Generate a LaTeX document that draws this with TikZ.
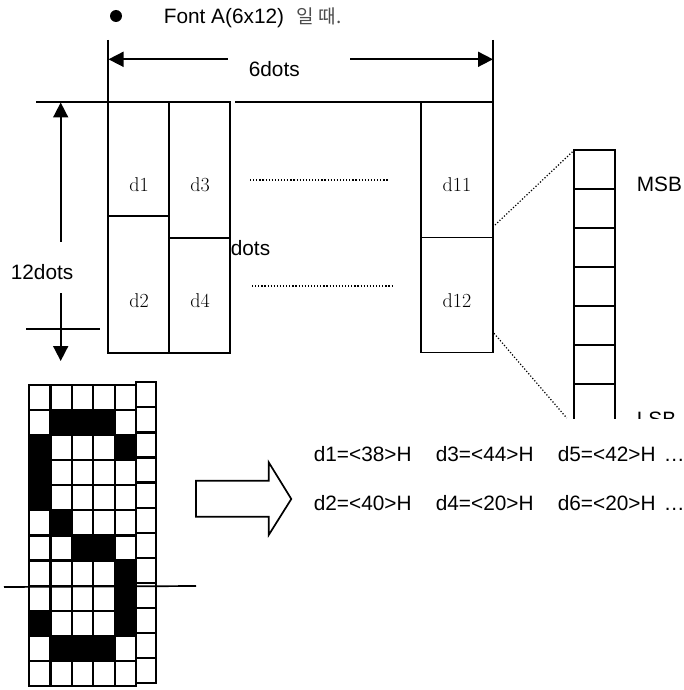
\documentclass[tikz,border=0pt]{standalone}
\usepackage{fontspec}
\setsansfont{Liberation Sans}
\newfontfamily\krfont{Noto Sans CJK KR}
\usetikzlibrary{arrows.meta,positioning}

\begin{document}
\begin{tikzpicture}[x=1pt, y=-1pt, font=\sffamily\fontsize{20.8}{24}\selectfont, line width=1.7pt,
  box/.style={draw=black, line width=1.7pt, minimum width=#1, inner sep=0pt, outer sep=0pt, anchor=north west},
  lbl/.style={font=\rmfamily\fontsize{20}{22}\selectfont, text=black, inner sep=0pt},
  txt/.style={anchor=base west, inner sep=0pt},
  ar/.style={{Triangle[length=15pt,width=15pt]}-, line width=1.7pt},
  dts/.style={line width=1.2pt, dash pattern=on 1.2pt off 1.9pt},
  cell/.style={draw=black, line width=2.2pt, minimum width=21.4pt, minimum height=25.08pt, inner sep=0pt, outer sep=0pt},
  blk/.style={cell, fill=black},
  cellb/.style={cell, minimum width=20pt},
  bit/.style={box=40.7pt, minimum height=39pt}]
\useasboundingbox (0,0) rectangle (684,690);
\fill (116,16) circle (6);
\node[txt] (title) at (163,24) {Font A(6x12)};
\node[txt, text=black!70] (titlekr) at (296,24) {\krfont\fontsize{19}{20}\selectfont 일 때.};
% column boxes
\node[box=61pt, minimum height=114pt] (b1) at (108,102) {};
\node[box=61pt, minimum height=137pt, below=0pt of b1.south west, anchor=north west] (b2) {};
\node[box=61pt, minimum height=136pt] (b3) at (169,102) {};
\node[box=61pt, minimum height=115pt, below=0pt of b3.south west, anchor=north west] (b4) {};
\node[box=72.6pt, minimum height=135.5pt] (b11) at (420.7,102) {};
\node[box=72.6pt, minimum height=115pt, below=0pt of b11.south west, anchor=north west] (b12) {};
\node[lbl] (d1) at (139,185) {d1};
\node[lbl] (d3) at (200,185) {d3};
\node[lbl] (d2) at (139,301) {d2};
\node[lbl] (d4) at (200,301) {d4};
\node[lbl] (d11) at (457,185) {d11};
\node[lbl] (d12) at (457,301) {d12};
\node[txt] (dots) at (230,255) {dots};
% dimension lines
\coordinate (w1) at (108,40);
\coordinate (w2) at (493.3,40);
\coordinate (w1a) at (108.5,59.3);
\coordinate (w1b) at (228,59.3);
\coordinate (w2a) at (493,59.3);
\coordinate (w2b) at (350,59.3);
\coordinate (t0) at (36,102);
\coordinate (t1) at (235,102);
\coordinate (h1a) at (60.7,102.5);
\coordinate (h1b) at (60.7,241.7);
\coordinate (h2a) at (60.7,361);
\coordinate (h2b) at (60.7,292.7);
\coordinate (s0) at (26,328.7);
\coordinate (s1) at (100,328.7);
\draw (w1) -- (b1.north west);
\draw (w2) -- (b11.north east);
\draw[ar] (w1a) -- (w1b);
\draw[ar] (w2a) -- (w2b);
\draw (t0) -- (b1.north west);
\draw (t1) -- (b11.north west);
\draw[ar] (h1a) -- (h1b);
\draw[ar] (h2a) -- (h2b);
\draw (s0) -- (s1);
\node[txt] (sixdots) at (248,76.7) {6dots};
\node[txt] (twelvedots) at (10,279.3) {12dots};
% dotted runs
\coordinate (r1a) at (250,180);
\coordinate (r1b) at (388,180);
\coordinate (r2a) at (252,286);
\coordinate (r2b) at (394,286);
\draw[dts] (r1a) -- (r1b);
\draw[dts] (r2a) -- (r2b);
% bit column
\foreach \i [count=\n from 0] in {150,189,228,267,306,345}
  \node[bit] (m\n) at (574.3,\i) {};
\begin{scope}
\clip (560,300) rectangle (684,418);
\node[bit] (m6) at (574.3,384) {};
\node[txt] (lsb) at (636,426) {LSB};
\end{scope}
\node[txt] (msb) at (636,191.7) {MSB};
\coordinate (f1) at (495,225);
\coordinate (f2) at (494,333.3);
\coordinate (f3) at (566.7,418);
\draw[dts] (f1) -- (m0.north west);
\draw[dts] (f2) -- (f3);
% glyph grid
\foreach \r in {0,...,11} {
  \foreach \c in {0,...,4}
    \node[cell] (g\r-\c) at ({39.7+21.4*\c},{397.5+25.08*\r}) {};
  \node[cellb] (g\r-5) at (146,{394.8+25.08*\r}) {};
}
\foreach \r/\c in {1/1,1/2,1/3,2/0,2/4,3/0,4/0,5/1,6/2,6/3,7/4,8/4,9/0,9/4,10/1,10/2,10/3}
  \node[blk] at (g\r-\c) {};
\coordinate (c0) at (4,587);
\coordinate (c1) at (196,586);
\draw (c0) -- (c1);
% hollow arrow
\draw[line join=miter] (196,480.7) coordinate (a0) -- (268.7,480.7) -- (268.7,462.3) -- (291.3,499) coordinate (a1)
  -- (268.7,535) -- (268.7,516.7) -- (196,516.7) -- cycle;
% values
\foreach \x/\a/\b in {313/d1=<38>H/d2=<40>H, 435/d3=<44>H/d4=<20>H, 557/d5=<42>H/d6=<20>H} {
  \node[txt] at (\x,461.7) {\a};
  \node[txt] at (\x,510) {\b};
}
\node[txt] (more1) at (663,461.7) {…};
\node[txt] (more2) at (663,510) {…};
\end{tikzpicture}
\end{document}
